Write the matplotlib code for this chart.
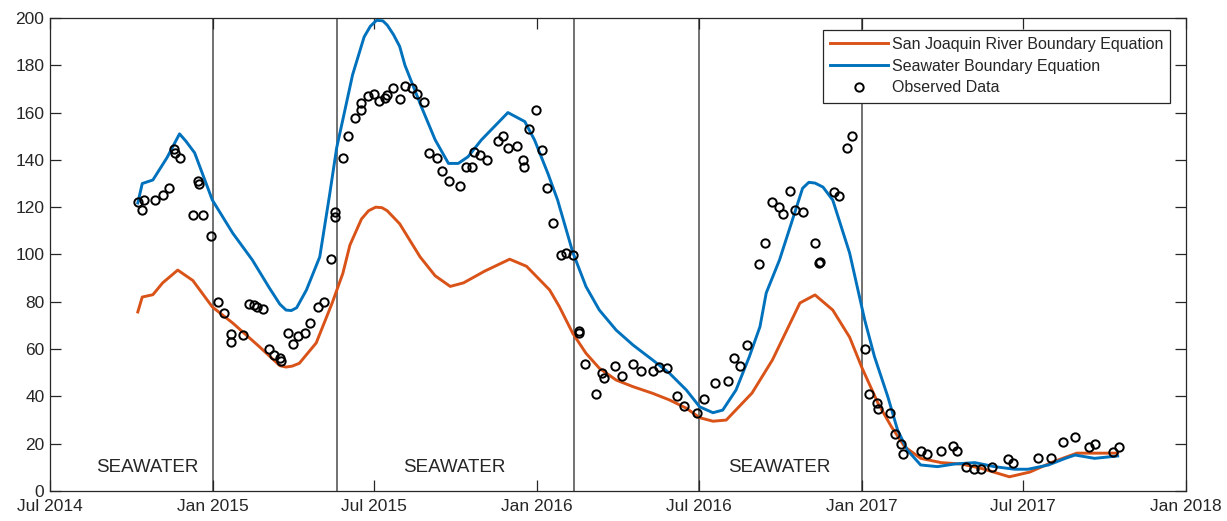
import matplotlib
matplotlib.use("Agg")
import matplotlib.pyplot as plt
import matplotlib.dates as mdates
import numpy as np
import pandas as pd

plt.rcParams["font.family"] = ["Liberation Sans", "DejaVu Sans"]

# Seawater boundary equation
sw_dates = ["2014-10-08", "2014-10-13", "2014-10-25", "2014-11-10", "2014-11-24", "2014-12-01",
            "2014-12-11", "2014-12-31", "2015-01-23", "2015-02-14", "2015-03-05", "2015-03-17",
            "2015-03-24", "2015-03-30", "2015-04-05", "2015-04-16", "2015-05-01", "2015-05-12",
            "2015-05-20", "2015-05-27", "2015-06-07", "2015-06-20", "2015-06-27", "2015-07-04",
            "2015-07-11", "2015-07-16", "2015-07-23", "2015-07-30", "2015-08-05", "2015-08-24",
            "2015-09-08", "2015-09-23", "2015-10-04", "2015-10-15", "2015-10-30", "2015-11-29",
            "2015-12-18", "2015-12-29", "2016-01-13", "2016-01-24", "2016-02-10", "2016-02-25",
            "2016-03-11", "2016-03-30", "2016-04-18", "2016-05-10", "2016-05-29", "2016-06-17",
            "2016-07-02", "2016-07-17", "2016-07-28", "2016-08-12", "2016-08-27", "2016-09-08",
            "2016-09-15", "2016-09-30", "2016-10-26", "2016-11-02", "2016-11-09", "2016-11-18",
            "2016-11-29", "2016-12-18", "2017-01-04", "2017-01-15", "2017-01-30", "2017-02-10",
            "2017-02-21", "2017-03-08", "2017-03-27", "2017-04-15", "2017-05-08", "2017-05-30",
            "2017-06-22", "2017-07-07", "2017-07-30", "2017-08-18", "2017-08-29", "2017-09-20",
            "2017-10-16"]
sw_vals = [121.8, 130, 131.5, 141, 151, 148,
           143, 123, 109, 97.7, 86, 79,
           76.5, 76.3, 77.5, 85, 99, 125,
           145, 157, 176, 192, 196.5, 199,
           198.8, 197, 193, 188, 180, 162,
           148.5, 138.5, 138.5, 141.3, 148.4, 160,
           156.2, 148.4, 134.3, 123, 101, 86.4,
           76.5, 68, 61.7, 55.4, 49.8, 42.7,
           35.6, 33.1, 34.2, 42.7, 56.8, 69.5,
           83.7, 97.7, 128, 130.5, 130.2, 128.5,
           123, 100.6, 72.3, 56.8, 39.9, 25.8,
           17.3, 11, 10.3, 11.4, 12, 10.3,
           9.2, 9.2, 11, 13.8, 15.2, 13.8,
           14.8]

# San Joaquin River boundary equation
sj_dates = ["2014-10-08", "2014-10-13", "2014-10-25", "2014-11-05", "2014-11-22", "2014-12-09",
            "2014-12-31", "2015-01-23", "2015-02-22", "2015-03-17", "2015-03-24", "2015-03-31",
            "2015-04-08", "2015-04-27", "2015-05-15", "2015-05-27", "2015-06-04", "2015-06-17",
            "2015-06-25", "2015-07-03", "2015-07-10", "2015-07-16", "2015-07-30", "2015-08-22",
            "2015-09-08", "2015-09-25", "2015-10-10", "2015-11-03", "2015-12-01", "2015-12-20",
            "2016-01-15", "2016-01-26", "2016-02-10", "2016-02-25", "2016-03-11", "2016-03-30",
            "2016-04-18", "2016-05-10", "2016-05-29", "2016-06-17", "2016-07-02", "2016-07-17",
            "2016-08-01", "2016-08-30", "2016-09-22", "2016-10-23", "2016-11-09", "2016-11-29",
            "2016-12-18", "2017-01-01", "2017-01-19", "2017-02-03", "2017-02-18", "2017-03-08",
            "2017-03-31", "2017-04-23", "2017-05-15", "2017-06-16", "2017-07-09", "2017-08-04",
            "2017-08-31", "2017-09-18", "2017-10-16"]
sj_vals = [75.7, 82, 83, 88, 93.4, 89,
           77.8, 71, 61, 53, 52.4, 52.8,
           54, 62.6, 79.5, 92, 104, 115,
           118.5, 120, 119.8, 118.5, 113, 99,
           91, 86.5, 88, 93, 98, 95,
           85, 77.9, 66.7, 58.2, 51.9, 46.9,
           44.1, 41.3, 38.5, 35, 31, 29.5,
           30, 41.4, 55.4, 79.5, 82.9, 76.5,
           65, 52, 37.1, 27.2, 18.7, 13.8,
           12, 11.4, 9.6, 6, 8, 12.3,
           16, 16, 16]

# observed data
obs_dates = ["2014-10-08", "2014-10-13", "2014-10-15", "2014-10-27", "2014-11-05", "2014-11-12",
             "2014-11-18", "2014-11-19", "2014-11-25", "2014-12-09", "2014-12-15", "2014-12-16",
             "2014-12-21", "2014-12-30", "2015-01-06", "2015-01-13", "2015-01-21", "2015-01-21",
             "2015-02-03", "2015-02-10", "2015-02-16", "2015-02-19", "2015-02-26", "2015-03-05",
             "2015-03-11", "2015-03-17", "2015-03-18", "2015-03-26", "2015-04-01", "2015-04-07",
             "2015-04-14", "2015-04-20", "2015-04-29", "2015-05-06", "2015-05-14", "2015-05-18",
             "2015-05-18", "2015-05-27", "2015-06-02", "2015-06-10", "2015-06-17", "2015-06-17",
             "2015-06-24", "2015-07-01", "2015-07-07", "2015-07-14", "2015-07-16", "2015-07-22",
             "2015-07-30", "2015-08-05", "2015-08-13", "2015-08-19", "2015-08-27", "2015-09-01",
             "2015-09-10", "2015-09-16", "2015-09-24", "2015-10-06", "2015-10-13", "2015-10-20",
             "2015-10-22", "2015-10-29", "2015-11-05", "2015-11-18", "2015-11-23", "2015-11-29",
             "2015-12-09", "2015-12-16", "2015-12-17", "2015-12-23", "2015-12-31", "2016-01-06",
             "2016-01-12", "2016-01-19", "2016-01-28", "2016-02-03", "2016-02-10", "2016-02-17",
             "2016-02-17", "2016-02-24", "2016-03-07", "2016-03-14", "2016-03-16", "2016-03-29",
             "2016-04-05", "2016-04-18", "2016-04-27", "2016-05-10", "2016-05-17", "2016-05-26",
             "2016-06-07", "2016-06-14", "2016-06-29", "2016-07-07", "2016-07-19", "2016-08-03",
             "2016-08-10", "2016-08-16", "2016-08-24", "2016-09-07", "2016-09-14", "2016-09-21",
             "2016-09-29", "2016-10-04", "2016-10-12", "2016-10-18", "2016-10-27", "2016-11-09",
             "2016-11-14", "2016-11-15", "2016-11-30", "2016-12-06", "2016-12-15", "2016-12-21",
             "2017-01-04", "2017-01-09", "2017-01-18", "2017-01-19", "2017-02-01", "2017-02-07",
             "2017-02-14", "2017-02-16", "2017-03-08", "2017-03-15", "2017-03-31", "2017-04-13",
             "2017-04-18", "2017-04-28", "2017-05-07", "2017-05-15", "2017-05-27", "2017-06-14",
             "2017-06-20", "2017-07-18", "2017-08-02", "2017-08-15", "2017-08-29", "2017-09-14",
             "2017-09-20", "2017-10-11", "2017-10-17"]
obs_vals = [122.1, 118.8, 123, 123, 125.2, 128,
            144.5, 142.8, 140.7, 116.7, 131, 129.8,
            116.7, 107.8, 79.8, 75.1, 66.4, 63.1,
            66, 79, 78.6, 78, 76.8, 60,
            57.5, 56.1, 55, 66.9, 62, 65.5,
            66.9, 71.2, 77.7, 79.8, 98, 117.8,
            116, 141, 150, 157.8, 161.1, 163.9,
            167, 167.9, 164.9, 166, 167.4, 170.3,
            165.8, 171.4, 170.3, 167.9, 164.6, 143,
            141, 135.4, 131.1, 129, 137.1, 137.1,
            143.5, 142.1, 140, 148, 150.2, 144.9,
            146, 140, 136.9, 153.1, 161.1, 144.2,
            128.2, 113.2, 99.8, 100.8, 99.8, 67.8,
            66.7, 53.7, 41, 50, 47.6, 52.9,
            48.8, 53.7, 50.7, 50.7, 52.3, 52.1,
            40.3, 35.9, 32.9, 38.8, 45.8, 46.6,
            56.1, 52.9, 61.7, 95.9, 104.7, 122.3,
            120, 117, 127, 118.8, 117.8, 105,
            96.3, 97, 126.3, 124.9, 144.9, 150.2,
            59.9, 41, 37.1, 34.5, 32.8, 24,
            19.7, 15.6, 17, 15.6, 16.9, 19,
            16.9, 10.3, 9.2, 9.2, 10.3, 13.4,
            12, 14.1, 14.1, 20.8, 23, 18.7,
            19.7, 16.6, 18.7]

# boundary switch dates and region labels
switch_dates = ["2015-01-01", "2015-05-20", "2016-02-11", "2016-07-01", "2017-01-01"]
label_dates = ["2014-10-19", "2015-09-30", "2016-09-30"]
label_text = ["SEAWATER", "SEAWATER", "SEAWATER"]

ink = "#262626"
fig = plt.figure(figsize=(12.27, 5.21), dpi=100)
ax = fig.add_axes([0.0407, 0.0576, 0.9259, 0.9079])

for d in switch_dates:
    ax.axvline(pd.Timestamp(d), color="#4a4a4a", lw=1.1, zorder=1)

ax.plot(pd.to_datetime(sj_dates), sj_vals, color="#D95319", lw=2.1,
        label="San Joaquin River Boundary Equation", zorder=3)
ax.plot(pd.to_datetime(sw_dates), sw_vals, color="#0072BD", lw=2.1,
        label="Seawater Boundary Equation", zorder=3)
ax.plot(pd.to_datetime(obs_dates), obs_vals, "o", mfc="none", mec="black",
        ms=6, mew=1.4, label="Observed Data", zorder=4)

for d, t in zip(label_dates, label_text):
    ax.text(pd.Timestamp(d), 10, t, ha="center", va="center", fontsize=13.5, color=ink)

ax.set_xlim(pd.Timestamp("2014-07-01"), pd.Timestamp("2018-01-01"))
ax.set_ylim(0, 200)
ax.set_yticks(np.arange(0, 201, 20))
ax.xaxis.set_major_locator(mdates.MonthLocator(bymonth=[1, 7]))
ax.xaxis.set_major_formatter(mdates.DateFormatter("%b %Y"))

ax.tick_params(direction="in", length=8, width=0.9, colors=ink, labelsize=12.5,
               top=True, right=True)
ax.tick_params(axis="x", pad=6)
ax.tick_params(axis="y", pad=4)
for s in ax.spines.values():
    s.set_color(ink)
    s.set_linewidth(0.9)

leg = ax.legend(loc="upper right", bbox_to_anchor=(0.986, 0.975), borderaxespad=0,
                fontsize=11.5, handlelength=3.6, handletextpad=0.25, labelspacing=0.42,
                borderpad=0.45, fancybox=False, framealpha=1, edgecolor=ink)
leg.get_frame().set_linewidth(0.9)
for t in leg.get_texts():
    t.set_color(ink)

fig.savefig("out.png", dpi=100)
